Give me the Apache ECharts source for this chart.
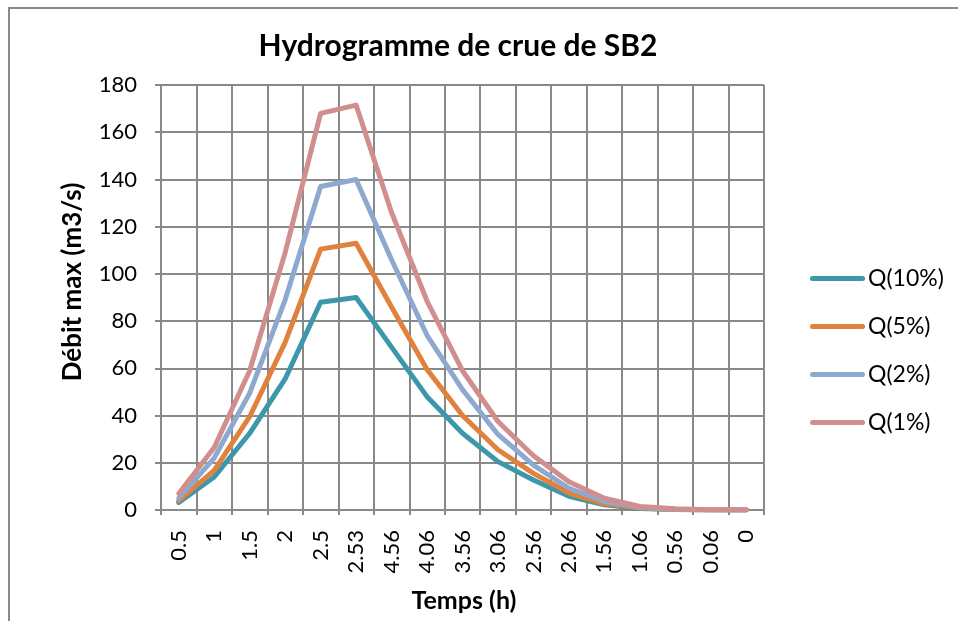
<!DOCTYPE html>
<html>
<head>
<meta charset="utf-8">
<script src="https://cdn.jsdelivr.net/npm/echarts@6/dist/echarts.min.js"></script>
<style>
  html, body { margin: 0; padding: 0; background: #fff; }
  #chart { width: 958px; height: 621px; }
</style>
</head>
<body>
<div id="chart"></div>
<script>
// Time steps (h) along the hydrograph
const categories = ['0.5', '1', '1.5', '2', '2.5', '2.53', '4.56', '4.06', '3.56', '3.06', '2.56', '2.06', '1.56', '1.06', '0.56', '0.06', '0'];

// Peak discharge (m3/s) for each return period
const q10 = [3.2, 14, 32.5, 55.5, 88, 90, 69, 48, 32.5, 20.5, 12.7, 5.8, 2.2, 0.6, 0.2, 0.05, 0];
const q5  = [4, 16.8, 39.5, 71, 110.5, 113, 86, 59.5, 40, 25.5, 15.5, 7.2, 2.6, 0.8, 0.25, 0.05, 0];
const q2  = [5, 22, 49.5, 89, 137, 140, 106, 74, 51, 32, 19, 9.2, 3.6, 1.1, 0.35, 0.1, 0];
const q1  = [7, 26.5, 59, 109, 168, 171.5, 126, 88.5, 59, 37.5, 23, 12, 5, 1.5, 0.5, 0.1, 0];

const seriesNames = ['Q(10%)', 'Q(5%)', 'Q(2%)', 'Q(1%)'];
const seriesData = [q10, q5, q2, q1];
const colors = ['#3C97AA', '#E0823D', '#8EA9CF', '#D08E8E'];

const FONT = 'Lato, "Open Sans", sans-serif';
const GRID_COLOR = '#898989';

// rounded bar used as the legend marker
const LEGEND_ICON = 'path://M2.5,0 L52.5,0 A2.5,2.5 0 0 1 52.5,5 L2.5,5 A2.5,2.5 0 0 1 2.5,0 Z';

const chart = echarts.init(document.getElementById('chart'), null, { renderer: 'canvas' });

chart.setOption({
  animation: false,
  backgroundColor: '#ffffff',
  grid: { left: 161, right: 194, top: 85, bottom: 111, containLabel: false },
  legend: {
    orient: 'vertical',
    left: 805,
    top: 262,
    itemWidth: 55,
    itemHeight: 5,
    itemGap: 25,
    icon: LEGEND_ICON,
    data: seriesNames,
    textStyle: { fontFamily: FONT, fontSize: 23, color: '#000', padding: [0, 0, 0, -2] }
  },
  xAxis: {
    type: 'category',
    data: categories,
    boundaryGap: true,
    axisLine: { show: true, lineStyle: { color: GRID_COLOR, width: 2 } },
    axisTick: { show: true, length: 5, interval: 0, lineStyle: { color: GRID_COLOR, width: 2 } },
    splitLine: { show: true, interval: 0, lineStyle: { color: GRID_COLOR, width: 2 } },
    axisLabel: {
      interval: 0,
      rotate: 90,
      margin: 20,
      fontFamily: FONT,
      fontSize: 22,
      color: '#000'
    }
  },
  yAxis: {
    type: 'value',
    min: 0,
    max: 180,
    interval: 20,
    axisLine: { show: true, lineStyle: { color: GRID_COLOR, width: 2 } },
    axisTick: { show: true, length: 6, lineStyle: { color: GRID_COLOR, width: 2 } },
    splitLine: { show: true, lineStyle: { color: GRID_COLOR, width: 2 } },
    axisLabel: { margin: 24, fontFamily: FONT, fontSize: 22, color: '#000' }
  },
  series: seriesNames.map((name, i) => ({
    name: name,
    type: 'line',
    data: seriesData[i],
    symbol: 'none',
    showSymbol: false,
    color: colors[i],
    itemStyle: { color: colors[i] },
    lineStyle: { color: colors[i], width: 5, cap: 'round', join: 'round' }
  })),
  graphic: [
    {
      type: 'rect',
      silent: true,
      shape: { x: 9, y: 8, width: 1000, height: 700 },
      style: { fill: 'none', stroke: GRID_COLOR, lineWidth: 2 },
      z: -1
    },
    {
      type: 'text',
      x: 458, y: 46,
      style: {
        text: 'Hydrogramme de crue de SB2',
        fontFamily: FONT, fontWeight: 'bold', fontSize: 30,
        fill: '#000', align: 'center', verticalAlign: 'middle'
      }
    },
    {
      type: 'text',
      x: 73, y: 282,
      rotation: Math.PI / 2,
      style: {
        text: 'Débit max (m3/s)',
        fontFamily: FONT, fontWeight: 'bold', fontSize: 26,
        fill: '#000', align: 'center', verticalAlign: 'middle'
      }
    },
    {
      type: 'text',
      x: 464, y: 601,
      style: {
        text: 'Temps (h)',
        fontFamily: FONT, fontWeight: 'bold', fontSize: 25,
        fill: '#000', align: 'center', verticalAlign: 'middle'
      }
    }
  ]
});
</script>
</body>
</html>
